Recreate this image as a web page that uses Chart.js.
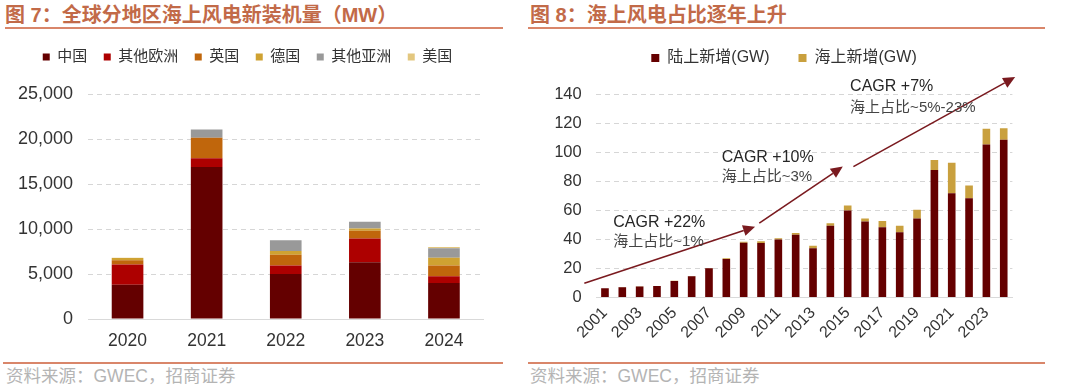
<!DOCTYPE html>
<html><head><meta charset="utf-8">
<script src="https://cdn.jsdelivr.net/npm/chart.js@4.4.1/dist/chart.umd.min.js"></script>
<style>
html,body{margin:0;padding:0;background:#fff;width:1080px;height:392px;overflow:hidden;font-family:"Liberation Sans","Noto Sans CJK SC",sans-serif;}
.title{position:absolute;top:2px;height:26px;line-height:26px;color:#c26a48;font-weight:bold;white-space:nowrap;font-size:20px;}
.rule{position:absolute;height:2px;background:#d9866a;}
.src{position:absolute;top:364px;height:24px;line-height:24px;color:#b4b4b4;font-size:17.5px;white-space:nowrap;}
canvas{position:absolute;top:0;}
</style></head>
<body>
<div class="title" style="left:5px;">图 7：全球分地区海上风电新装机量（MW）</div>
<div class="title" style="left:530px;">图 8：海上风电占比逐年上升</div>
<div class="rule" style="left:5px;width:498px;top:27px;"></div>
<div class="rule" style="left:528px;width:517px;top:27px;"></div>
<div class="rule" style="left:3px;width:500px;top:362px;"></div>
<div class="rule" style="left:528px;width:517px;top:362px;"></div>
<div class="src" style="left:6px;">资料来源：GWEC，招商证券</div>
<div class="src" style="left:530px;">资料来源：GWEC，招商证券</div>
<canvas id="c1" width="515" height="392" style="left:0px;"></canvas>
<canvas id="c2" width="560" height="392" style="left:520px;"></canvas>
<script>
// ---------- Figure 7 data (MW) ----------
const years7 = ['2020', '2021', '2022', '2023', '2024'];
const chinaMW = [3800, 16900, 5000, 6300, 4000];
const otherEuropeMW = [2250, 950, 950, 2650, 750];
const ukMW = [480, 2300, 1200, 850, 1200];
const germanyMW = [240, 0, 400, 250, 850];
const otherAsiaMW = [0, 900, 1200, 750, 1050];
const usaMW = [30, 0, 0, 0, 150];
const yTicks7 = [0, 5000, 10000, 15000, 20000, 25000];

// ---------- Figure 8 data (GW) ----------
const years8 = ['2001','2002','2003','2004','2005','2006','2007','2008','2009','2010','2011','2012',
                '2013','2014','2015','2016','2017','2018','2019','2020','2021','2022','2023','2024'];
const onshoreGW = [6.3, 7.0, 7.5, 7.9, 11.4, 14.6, 20.1, 26.6, 37.8, 37.6, 39.9, 43.2,
                   33.9, 49.5, 59.9, 52.3, 48.4, 45.0, 54.4, 87.9, 71.8, 68.4, 105.4, 108.6];
const offshoreGW = [0.05, 0.2, 0.3, 0.1, 0.1, 0.2, 0.3, 0.4, 0.6, 1.2, 0.9, 1.3,
                    1.7, 1.7, 3.4, 2.2, 4.3, 4.5, 6.1, 6.9, 21.1, 8.8, 10.8, 8.0];
const yTicks8 = [0, 20, 40, 60, 80, 100, 120, 140];
// trend arrows in data coordinates [category index, GW]
const trendArrows = [
  {from: [-1.19, 9.8], to: [8.66, 48.8]},
  {from: [8.90, 51.2], to: [13.72, 90.2]},
  {from: [14.33, 90.2], to: [23.66, 151.9]}
];
const trendNotes = [
  {at: [0.48, 51.6], cagr: 'CAGR +22%', share: '海上占比~1%', shareAt: 38.5},
  {at: [6.73, 96.7], cagr: 'CAGR +10%', share: '海上占比~3%', shareAt: 82.9},
  {at: [14.14, 145.0], cagr: 'CAGR +7%', share: '海上占比~5%-23%', shareAt: 130.9}
];

const FAM = "'Liberation Sans','Noto Sans CJK SC',sans-serif";
const gridDash = {color: '#d6d6d6', lineWidth: 1, drawTicks: false};

function legendGap(extra) {
  return {
    id: 'legendGap',
    beforeLayout(chart) {
      const l = chart.legend;
      if (l && !l._gapPatched) {
        const f = l.fit;
        l.fit = function () { f.call(this); this.height += extra; };
        l._gapPatched = true;
      }
    }
  };
}

// ---------- Chart 7 ----------
new Chart(document.getElementById('c1'), {
  type: 'bar',
  data: {
    labels: years7,
    datasets: [
      {label: '中国', data: chinaMW, backgroundColor: '#640000'},
      {label: '其他欧洲', data: otherEuropeMW, backgroundColor: '#ad0000'},
      {label: '英国', data: ukMW, backgroundColor: '#c0660c'},
      {label: '德国', data: germanyMW, backgroundColor: '#cfa232'},
      {label: '其他亚洲', data: otherAsiaMW, backgroundColor: '#999999'},
      {label: '美国', data: usaMW, backgroundColor: '#e3c77f'}
    ]
  },
  options: {
    responsive: false, animation: false, devicePixelRatio: 1,
    layout: {padding: {top: 33, left: 11.5, right: 31.5, bottom: 38}},
    datasets: {bar: {categoryPercentage: 1, barPercentage: 0.4}},
    plugins: {
      legend: {
        position: 'top',
        labels: {boxWidth: 7, boxHeight: 7, padding: 16.5, color: '#333',
                 font: {family: FAM, size: 15}}
      },
      tooltip: {enabled: false}
    },
    scales: {
      x: {
        stacked: true,
        grid: {display: false, drawTicks: false},
        border: {display: true, color: '#d9d9d9'},
        ticks: {color: '#333', padding: 12, font: {family: FAM, size: 17.5}},
        afterFit(s) { s.height = 35; }
      },
      y: {
        stacked: true, min: 0, max: 25000,
        afterBuildTicks(s) { s.ticks = yTicks7.map(v => ({value: v})); },
        grid: gridDash,
        border: {display: false, dash: [5, 4]},
        ticks: {color: '#333', padding: 15, font: {family: FAM, size: 18},
                callback: v => Number(v).toLocaleString('en-US')},
        afterFit(s) { s.width = 76.5; }
      }
    }
  },
  plugins: [legendGap(19.5)]
});

// ---------- Chart 8 ----------
const arrowPlugin = {
  id: 'trendArrows',
  afterDatasetsDraw(chart) {
    const ctx = chart.ctx, xs = chart.scales.x, ys = chart.scales.y;
    ctx.save();
    ctx.strokeStyle = '#7a1a1f';
    ctx.fillStyle = '#7a1a1f';
    ctx.lineWidth = 1.6;
    trendArrows.forEach(a => {
      const x1 = xs.getPixelForValue(a.from[0]), y1 = ys.getPixelForValue(a.from[1]);
      const x2 = xs.getPixelForValue(a.to[0]), y2 = ys.getPixelForValue(a.to[1]);
      const ang = Math.atan2(y2 - y1, x2 - x1);
      const L = 12, W = 5.5;
      const bx = x2 - L * Math.cos(ang), by = y2 - L * Math.sin(ang);
      ctx.beginPath(); ctx.moveTo(x1, y1); ctx.lineTo(bx, by); ctx.stroke();
      ctx.beginPath();
      ctx.moveTo(x2, y2);
      ctx.lineTo(bx + W * Math.sin(ang), by - W * Math.cos(ang));
      ctx.lineTo(bx - W * Math.sin(ang), by + W * Math.cos(ang));
      ctx.closePath(); ctx.fill();
    });
    ctx.textBaseline = 'middle';
    ctx.textAlign = 'left';
    trendNotes.forEach(n => {
      const x = xs.getPixelForValue(n.at[0]);
      ctx.fillStyle = '#262626';
      ctx.font = '16px ' + FAM;
      ctx.fillText(n.cagr, x, ys.getPixelForValue(n.at[1]));
      ctx.fillStyle = '#444';
      ctx.font = '15px ' + FAM;
      ctx.fillText(n.share, x, ys.getPixelForValue(n.shareAt));
    });
    ctx.restore();
  }
};

new Chart(document.getElementById('c2'), {
  type: 'bar',
  data: {
    labels: years8,
    datasets: [
      {label: '陆上新增(GW)', data: onshoreGW, backgroundColor: '#650000'},
      {label: '海上新增(GW)', data: offshoreGW, backgroundColor: '#c9a03e'}
    ]
  },
  options: {
    responsive: false, animation: false, devicePixelRatio: 1,
    layout: {padding: {top: 21, left: 35.6, right: 67.6, bottom: 44.5}},
    datasets: {bar: {categoryPercentage: 1, barPercentage: 0.44}},
    plugins: {
      legend: {
        position: 'top',
        labels: {boxWidth: 8, boxHeight: 8, padding: 29, color: '#333',
                 font: {family: FAM, size: 16}}
      },
      tooltip: {enabled: false}
    },
    scales: {
      x: {
        stacked: true,
        grid: {display: false, drawTicks: false},
        border: {display: true, color: '#d9d9d9'},
        ticks: {color: '#333', padding: 6, autoSkip: false, minRotation: 45, maxRotation: 45,
                font: {family: FAM, size: 16},
                callback: (v, i) => (i % 2 === 0 ? years8[i] : '')},
        afterFit(s) { s.height = 50; }
      },
      y: {
        stacked: true, min: 0, max: 140,
        afterBuildTicks(s) { s.ticks = yTicks8.map(v => ({value: v})); },
        grid: gridDash,
        border: {display: false, dash: [5, 4]},
        ticks: {color: '#333', padding: 14.6, font: {family: FAM, size: 16.5}},
        afterFit(s) { s.width = 40.7; }
      }
    }
  },
  plugins: [legendGap(18.3), arrowPlugin]
});
</script>
</body></html>
